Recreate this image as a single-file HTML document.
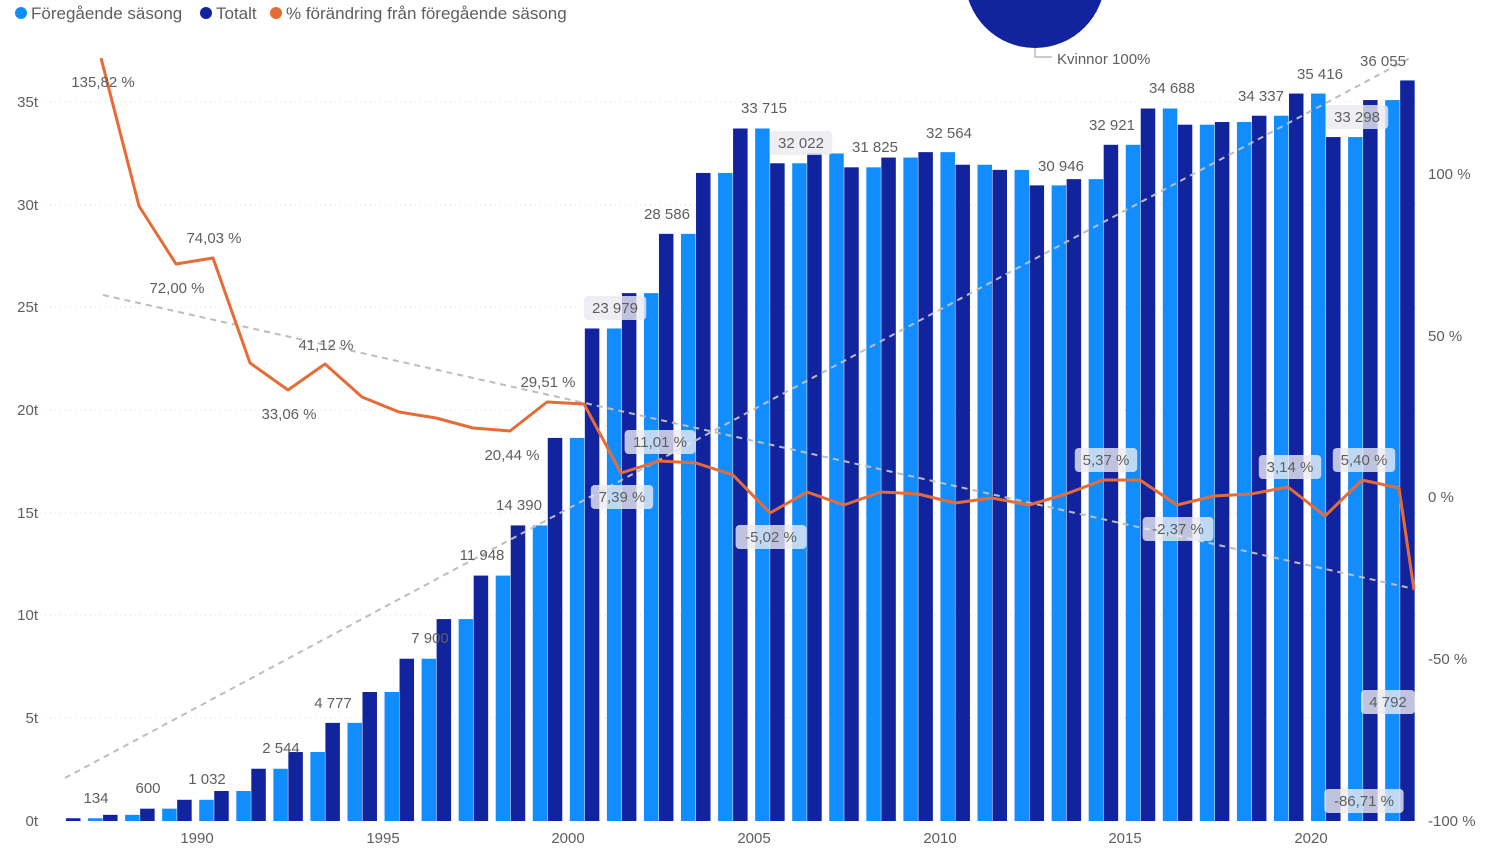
<!DOCTYPE html>
<html><head><meta charset="utf-8"><style>
body{margin:0;background:#fff;}
svg{display:block;font-family:"Liberation Sans",sans-serif;}
.t{font-size:15px;fill:#605E5C;}
.l{font-size:15px;fill:#252423;}
</style></head><body>
<svg width="1506" height="852" viewBox="0 0 1506 852" xmlns="http://www.w3.org/2000/svg">
<g stroke="#E1DFDD" stroke-dasharray="1,4" stroke-width="1">
<line x1="45" x2="1420" y1="718" y2="718"/><line x1="45" x2="1420" y1="615" y2="615"/>
<line x1="45" x2="1420" y1="513" y2="513"/><line x1="45" x2="1420" y1="410" y2="410"/>
<line x1="45" x2="1420" y1="307" y2="307"/><line x1="45" x2="1420" y1="205" y2="205"/>
<line x1="45" x2="1420" y1="102" y2="102"/>
</g>
<g class="t" text-anchor="end">
<text x="38" y="826">0t</text><text x="38" y="723">5t</text><text x="38" y="620">10t</text>
<text x="38" y="518">15t</text><text x="38" y="415">20t</text><text x="38" y="312">25t</text>
<text x="38" y="210">30t</text><text x="38" y="107">35t</text>
</g>
<g class="t">
<text x="1428" y="179">100 %</text><text x="1428" y="341">50 %</text><text x="1428" y="502">0 %</text>
<text x="1428" y="664">-50 %</text><text x="1428" y="826">-100 %</text>
</g>
<g class="t" text-anchor="middle">
<text x="197" y="843">1990</text><text x="383" y="843">1995</text><text x="568" y="843">2000</text>
<text x="754" y="843">2005</text><text x="940" y="843">2010</text><text x="1125" y="843">2015</text><text x="1311" y="843">2020</text>
</g>
<g id="bars"></g>
<g stroke="#BDBDBD" stroke-width="2" stroke-dasharray="6,5" fill="none">
<line x1="65" y1="778" x2="1410" y2="58"/>
<line x1="103" y1="295" x2="1410" y2="588"/>
</g>
<polyline fill="none" stroke="#E66C37" stroke-width="3" stroke-linejoin="round" points="101,58 139,206 176,264 213,258 250,363 288,390 325,364 362,397 399,412 436,418 473,428 510,431 547,402 584,404 621,473 659,461 696,463 733,475 770,513 807,492 844,505 881,492 918,494 955,503 992,498 1029,505 1066,494 1103,480 1140,480 1177,505 1214,496 1251,494 1288,487 1325,516 1362,480 1399,488 1414,590"/>
<g id="labels"></g>
<circle cx="1035" cy="-22" r="70" fill="#12239E"/>
<polyline points="1035,48 1035,57 1052,57" fill="none" stroke="#999"/>
<text class="t" x="1057" y="64">Kvinnor 100%</text>
<circle cx="21" cy="13" r="6" fill="#118DFF"/><text class="t" x="31" y="19" style="font-size:17px">Föregående säsong</text>
<circle cx="206" cy="13" r="6" fill="#12239E"/><text class="t" x="216" y="19" style="font-size:17px">Totalt</text>
<circle cx="276" cy="13" r="6" fill="#E66C37"/><text class="t" x="286" y="19" style="font-size:17px">% förändring från föregående säsong</text>
</svg>
<script>
var v=[134,300,600,1032,1460,2544,3360,4777,6280,7900,9830,11948,14390,18650,23979,25700,28586,31550,33715,32022,32500,31825,32300,32564,31950,31700,30946,31250,32921,34688,33900,34030,34337,35416,33298,35100,36055];
var ns="http://www.w3.org/2000/svg",g=document.getElementById("bars");
function r(x,val,c){var h=val*0.02054;var e=document.createElementNS(ns,"rect");e.setAttribute("x",x);e.setAttribute("y",821-h);e.setAttribute("width",14.5);e.setAttribute("height",h);e.setAttribute("fill",c);g.appendChild(e);}
for(var k=0;k<v.length;k++){var dx=66+37.06*k;if(k>0)r(dx-15,v[k-1],"#118DFF");r(dx,v[k],"#12239E");}
var L=[[96,803,"134",0],[148,793,"600",0],[207,784,"1 032",0],[281,753,"2 544",0],[333,708,"4 777",0],[430,643,"7 900",0],[482,560,"11 948",0],[519,510,"14 390",0],[615,313,"23 979",1],[667,219,"28 586",0],[764,113,"33 715",0],[801,148,"32 022",1],[875,152,"31 825",0],[949,138,"32 564",0],[1061,171,"30 946",0],[1112,130,"32 921",0],[1172,93,"34 688",0],[1261,101,"34 337",0],[1320,79,"35 416",0],[1357,122,"33 298",1],[1383,66,"36 055",0],[1388,707,"4 792",1],
[103,87,"135,82 %",0],[214,243,"74,03 %",0],[177,293,"72,00 %",0],[326,350,"41,12 %",0],[289,419,"33,06 %",0],[548,387,"29,51 %",0],[512,460,"20,44 %",0],[660,447,"11,01 %",1],[622,502,"7,39 %",1],[771,542,"-5,02 %",1],[1106,465,"5,37 %",1],[1178,534,"-2,37 %",1],[1290,472,"3,14 %",1],[1364,465,"5,40 %",1],[1364,806,"-86,71 %",1]];
var lg=document.getElementById("labels");
L.forEach(function(a){var w=a[2].length*8.4+12;if(a[3]){var b=document.createElementNS(ns,"rect");b.setAttribute("x",a[0]-w/2);b.setAttribute("y",a[1]-17);b.setAttribute("width",w);b.setAttribute("height",24);b.setAttribute("rx",4);b.setAttribute("fill","rgba(235,235,240,0.8)");lg.appendChild(b);}
var t=document.createElementNS(ns,"text");t.setAttribute("x",a[0]);t.setAttribute("y",a[1]);t.setAttribute("text-anchor","middle");t.setAttribute("class","t");t.textContent=a[2];lg.appendChild(t);});
</script>
</body></html>
